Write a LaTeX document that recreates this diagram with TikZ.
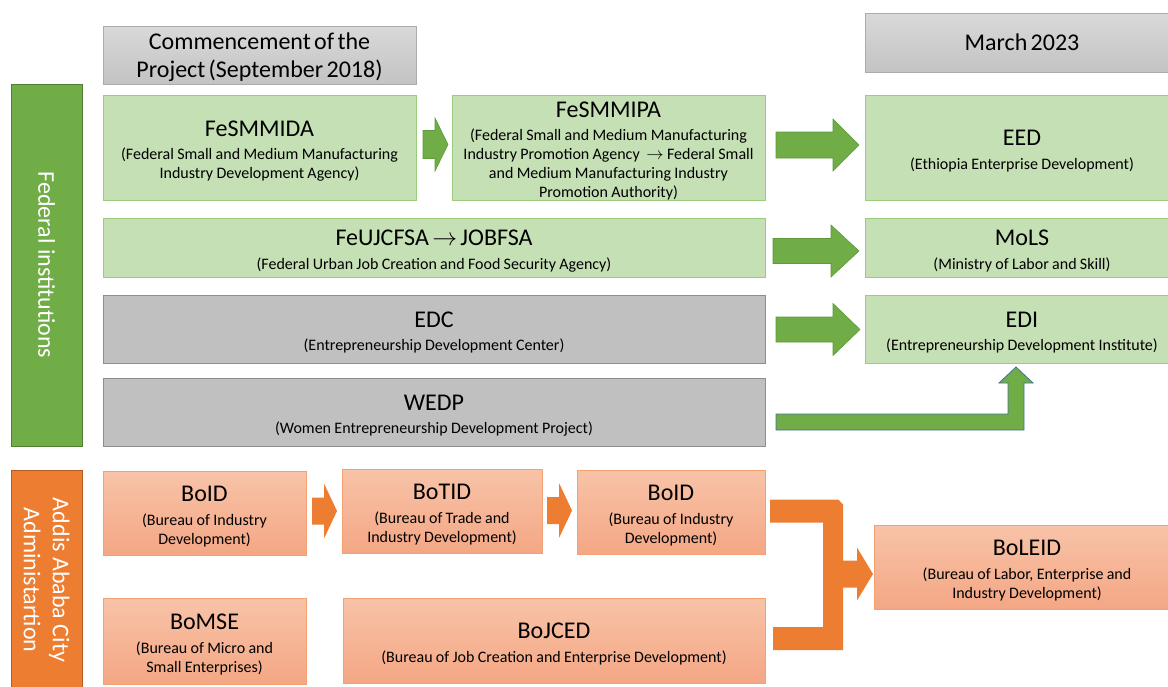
\documentclass[tikz,border=0pt]{standalone}
\usepackage{fontspec}
\setmainfont{Carlito}
\usetikzlibrary{calc}
\definecolor{gfill}{HTML}{C5E0B4}
\definecolor{gline}{HTML}{9CCB7E}
\definecolor{garrow}{HTML}{70AD47}
\definecolor{garrowline}{HTML}{5E9A3A}
\definecolor{gbarline}{HTML}{507E32}
\definecolor{hdrtop}{HTML}{D9D9D9}
\definecolor{hdrbot}{HTML}{C3C3C3}
\definecolor{hdrline}{HTML}{ABABAB}
\definecolor{grayf}{HTML}{C0C0C0}
\definecolor{grayl}{HTML}{8E8E8E}
\definecolor{otop}{HTML}{F8C3A8}
\definecolor{obot}{HTML}{F4A784}
\definecolor{oline}{HTML}{F3A072}
\definecolor{obar}{HTML}{ED7D31}
\definecolor{obarline}{HTML}{B35D22}
\definecolor{blueline}{HTML}{41719C}
\newcommand\myT{\fontsize{24}{28}\selectfont}
\newcommand\myS{\fontsize{16}{19}\selectfont}
\newcommand\boxtxt[2]{{\myT #1\par}\vspace{4.5pt}{\myS #2\par}\vspace{-7pt}}
\newcommand\rblock[6]{\path[#1] let \p1=(#2), \p2=(#3) in (\x1,\y1+#4) -- (\x2-#6,\y1+#4) -- (\x2-#6,\y1+#5) -- (\x2,\y1) -- (\x2-#6,\y1-#5) -- (\x2-#6,\y1-#4) -- (\x1,\y1-#4) -- cycle;}
\tikzset{
  box/.style={anchor=north west, inner sep=0pt, outer sep=0pt, line width=1pt, align=center, text=black},
  gbox/.style={box, fill=gfill, draw=gline},
  graybox/.style={box, fill=grayf, draw=grayl},
  hdrbox/.style={box, top color=hdrtop, bottom color=hdrbot, draw=hdrline},
  obox/.style={box, top color=otop, bottom color=obot, draw=oline},
  sidebar/.style={anchor=center, inner sep=0pt, outer sep=0pt, line width=1pt, rotate=-90, align=center, text=white, font=\fontsize{24}{29}\selectfont},
  garr/.style={fill=garrow, draw=garrowline, line width=0.6pt},
  garrb/.style={fill=garrow, draw=blueline, line width=0.8pt},
  oarr/.style={fill=obar, draw=none},
}
\begin{document}
\begin{tikzpicture}[x=1pt,y=-1pt]
\useasboundingbox (0,0) rectangle (1168,686);
% headers
\node[hdrbox, minimum width=313pt, minimum height=58pt, text width=303pt] (hdra) at (103,26) {\myT Commencement of the\\Project (September 2018)\par\vspace{-4pt}};
\node[hdrbox, minimum width=314pt, minimum height=59pt, text width=304pt] (hdrb) at (865,13) {\myT March 2023\par\vspace{-3pt}};
% side bars
\node[sidebar, fill=garrow, draw=gbarline, minimum width=362pt, minimum height=71pt] (fedbar) at (46.5,265) {Federal institutions};
\node[sidebar, fill=obar, draw=obarline, minimum width=220pt, minimum height=71pt] (addisbar) at (46.5,580) {Addis Ababa City\\Administartion};
% federal
\node[gbox, minimum width=313pt, minimum height=105pt, text width=305pt] (fesmmida) at (103,95) {\boxtxt{FeSMMIDA}{(Federal Small and Medium Manufacturing\\Industry Development Agency)}};
\node[gbox, minimum width=313pt, minimum height=105pt, text width=305pt] (fesmmipa) at (452,95) {\boxtxt{FeSMMIPA}{(Federal Small and Medium Manufacturing\\Industry Promotion Agency \ \ensuremath{\rightarrow} Federal Small\\and Medium Manufacturing Industry\\Promotion Authority)}};
\node[gbox, minimum width=314pt, minimum height=105pt, text width=306pt] (eed) at (865,95) {\boxtxt{EED}{(Ethiopia Enterprise Development)}};
\node[gbox, minimum width=662pt, minimum height=59pt, text width=650pt] (feuj) at (103,218) {\boxtxt{FeUJCFSA \ensuremath{\rightarrow}\ JOBFSA}{(Federal Urban Job Creation and Food Security Agency)}};
\node[gbox, minimum width=314pt, minimum height=59pt, text width=306pt] (mols) at (865,218) {\boxtxt{MoLS}{(Ministry of Labor and Skill)}};
\node[graybox, minimum width=662pt, minimum height=68pt, text width=650pt] (edc) at (103,295) {\boxtxt{EDC}{(Entrepreneurship Development Center)}};
\node[gbox, minimum width=314pt, minimum height=68pt, text width=306pt] (edi) at (865,295) {\boxtxt{EDI}{(Entrepreneurship Development Institute)}};
\node[graybox, minimum width=662pt, minimum height=68pt, text width=650pt] (wedp) at (103,378) {\boxtxt{WEDP}{(Women Entrepreneurship Development Project)}};
% addis
\node[obox, minimum width=203pt, minimum height=84pt, text width=195pt] (boida) at (103,471) {\boxtxt{BoID}{(Bureau of Industry\\Development)}};
\node[obox, minimum width=200pt, minimum height=84pt, text width=192pt] (botid) at (342,469) {\boxtxt{BoTID}{(Bureau of Trade and\\Industry Development)}};
\node[obox, minimum width=188pt, minimum height=84pt, text width=180pt] (boidb) at (577,470) {\boxtxt{BoID}{(Bureau of Industry\\Development)}};
\node[obox, minimum width=203pt, minimum height=86pt, text width=195pt] (bomse) at (103,598) {\boxtxt{BoMSE}{(Bureau of Micro and\\Small Enterprises)}};
\node[obox, minimum width=422pt, minimum height=85pt, text width=410pt] (bojced) at (343,598) {\boxtxt{BoJCED}{(Bureau of Job Creation and Enterprise Development)}};
\node[obox, minimum width=306pt, minimum height=84pt, text width=298pt] (boleid) at (874,525) {\boxtxt{BoLEID}{(Bureau of Labor, Enterprise and\\Industry Development)}};
% green arrows
\rblock{garr}{$(fesmmida.east)+(7,-3)$}{$(fesmmipa.west)+(-4,0)$}{14}{26.5}{13}
\rblock{garr}{$(fesmmipa.east)+(11,-2.5)$}{$(eed.west)+(-6,0)$}{13}{26}{26}
\rblock{garr}{$(feuj.east)+(8,3.5)$}{$(mols.west)+(-6,0)$}{12.5}{26}{28}
\rblock{garr}{$(edc.east)+(11,0.5)$}{$(edi.west)+(-5,0)$}{12.5}{26}{27}
\path[garrb] let \p1=(wedp.east), \p2=(edi.south) in
  (\x1+11,\y1-2) -- (\x2-14,\y1-2) -- (\x2-14,\y2-20) -- (\x2-23,\y2-20) -- (\x2-6,\y2-4) -- (\x2+11,\y2-20) -- (\x2+2,\y2-20) -- (\x2+2,\y1-18) -- (\x1+11,\y1-18) -- cycle;
% orange arrows
\rblock{oarr}{$(boida.east)+(6,-2)$}{$(botid.west)+(-5,0)$}{13.5}{27.5}{13}
\rblock{oarr}{$(botid.east)+(5,-0.5)$}{$(boidb.west)+(-5,0)$}{13.5}{27.5}{13}
\path[oarr] let \p1=(boidb.east), \p2=(bojced.east), \p3=(boleid.west) in
  (\x1+5,\y1+12.5) -- (\x1+73,\y1+12.5) -- (\x1+78,\y1+7.5) -- (\x1+78,\y3-7+13.5) -- (\x3-17,\y3-7+13.5) -- (\x3-17,\y3-7+26.5) -- (\x3-1,\y3-7) -- (\x3-17,\y3-7-26.5) -- (\x3-17,\y3-7-13.5) -- (\x1+78,\y3-7-13.5) -- (\x1+78,\y2-9.5) -- (\x2+8,\y2-9.5) -- (\x2+8,\y2+13.5) -- (\x1+58,\y2+13.5) -- (\x1+58,\y1-10.5) -- (\x1+5,\y1-10.5) -- cycle;
\end{tikzpicture}
\end{document}
